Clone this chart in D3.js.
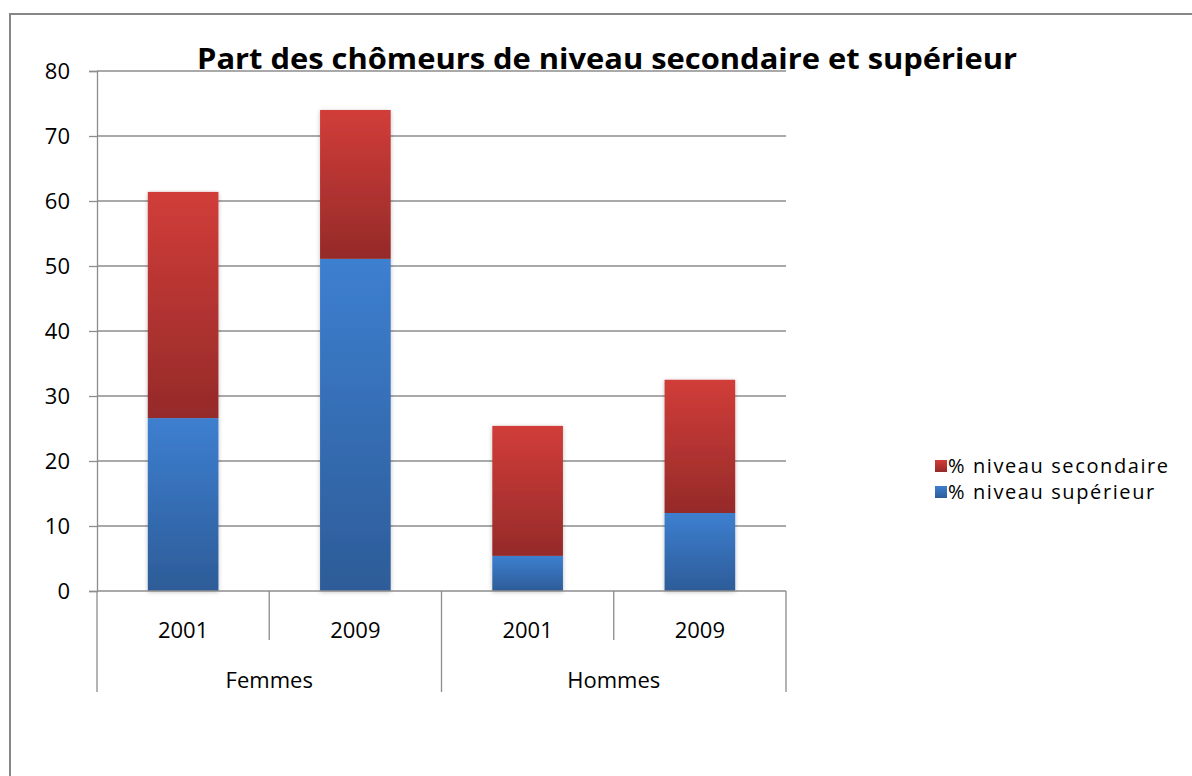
<!DOCTYPE html>
<html>
<head>
<meta charset="utf-8">
<script src="https://cdn.jsdelivr.net/npm/d3@7"></script>
<style>
  body { margin: 0; background: #fff; }
  text { font-family: "Open Sans", "Liberation Sans", sans-serif; fill: #000; }
</style>
</head>
<body>
<div id="chart"></div>
<script>
// data
var groups = ['Femmes', 'Hommes'];
var years = ['2001', '2009'];
var categories = ['Femmes 2001', 'Femmes 2009', 'Hommes 2001', 'Hommes 2009'];
var superieur = [26.6, 51.1, 5.4, 12.0];
var secondaire = [34.8, 22.9, 20.0, 20.5];
var yTicks = [0, 10, 20, 30, 40, 50, 60, 70, 80];
var seriesNames = ['% niveau secondaire', '% niveau supérieur'];

var svgWidth = 1192, svgHeight = 776;
var margin = { top: 71, left: 97, right: 406, bottom: 185 };
var width = svgWidth - margin.left - margin.right;
var height = svgHeight - margin.top - margin.bottom;

var svg = d3.select('#chart').append('svg')
  .attr('width', svgWidth)
  .attr('height', svgHeight);

var defs = svg.append('defs');
function grad(id, c1, c2) {
  var g = defs.append('linearGradient').attr('id', id)
    .attr('x1', 0).attr('y1', 0).attr('x2', 0).attr('y2', 1);
  g.append('stop').attr('offset', '0%').attr('stop-color', c1);
  g.append('stop').attr('offset', '100%').attr('stop-color', c2);
}
grad('gRed', '#d13d39', '#952a29');
grad('gBlue', '#3d7fd0', '#2d5c98');
var f = defs.append('filter').attr('id', 'shadow')
  .attr('x', '-20%').attr('y', '-5%').attr('width', '140%').attr('height', '115%');
f.append('feDropShadow').attr('dx', 0).attr('dy', 1).attr('stdDeviation', 2)
  .attr('flood-color', '#000').attr('flood-opacity', 0.25);

// outer chart border
svg.append('rect')
  .attr('x', 10).attr('y', 14)
  .attr('width', 1200).attr('height', 800)
  .attr('fill', 'none').attr('stroke', '#878787').attr('stroke-width', 2);

var chart = svg.append('g')
  .attr('transform', `translate(${margin.left},${margin.top})`);

var x = d3.scaleBand().domain(categories).range([0, width]).paddingInner(0.59).paddingOuter(0.295);
var xb = d3.scaleBand().domain(categories).range([0, width]);
var y = d3.scaleLinear().domain([0, 80]).range([height, 0]);

// gridlines
chart.append('g').selectAll('line').data(yTicks.slice(1)).enter().append('line')
  .attr('x1', 0).attr('x2', width)
  .attr('y1', d => y(d)).attr('y2', d => y(d))
  .attr('stroke', '#8c8c8c').attr('stroke-width', 1.3);

// y axis
var yAxis = chart.append('g')
  .call(d3.axisLeft(y).tickValues(yTicks).tickSize(8).tickPadding(19));
yAxis.select('.domain').attr('stroke', '#8c8c8c').attr('stroke-width', 1.3);
yAxis.selectAll('.tick line').attr('stroke', '#8c8c8c').attr('stroke-width', 1.3);
yAxis.selectAll('.tick text').style('font-size', '22px').style('font-family', '"Open Sans", sans-serif').attr('fill', '#000');

// bars
var stacked = categories.map((c, i) => ({ cat: c, sup: superieur[i], sec: secondaire[i] }));
var bars = chart.append('g').attr('filter', 'url(#shadow)');
bars.selectAll('rect.sup').data(stacked).enter().append('rect')
  .attr('class', 'sup')
  .attr('x', d => x(d.cat)).attr('width', x.bandwidth())
  .attr('y', d => y(d.sup)).attr('height', d => y(0) - y(d.sup))
  .attr('fill', 'url(#gBlue)');
bars.selectAll('rect.sec').data(stacked).enter().append('rect')
  .attr('class', 'sec')
  .attr('x', d => x(d.cat)).attr('width', x.bandwidth())
  .attr('y', d => y(d.sup + d.sec)).attr('height', d => y(d.sup) - y(d.sup + d.sec))
  .attr('fill', 'url(#gRed)');

// category axis (two levels)
var axisG = chart.append('g').attr('transform', `translate(0,${height})`);
axisG.append('line').attr('x1', 0).attr('x2', width).attr('y1', 0).attr('y2', 0)
  .attr('stroke', '#8c8c8c').attr('stroke-width', 1.3);
var sepX = d3.range(categories.length + 1).map(i => i * xb.step());
axisG.selectAll('line.sep').data(sepX).enter().append('line')
  .attr('class', 'sep')
  .attr('x1', d => d).attr('x2', d => d)
  .attr('y1', 0).attr('y2', (d, i) => i % 2 === 0 ? 101 : 49)
  .attr('stroke', '#8c8c8c').attr('stroke-width', 1.3);
axisG.selectAll('text.year').data(categories).enter().append('text')
  .attr('class', 'year')
  .attr('x', d => xb(d) + xb.bandwidth() / 2).attr('y', 47)
  .attr('text-anchor', 'middle').style('font-size', '22px')
  .text((d, i) => years[i % 2]);
axisG.selectAll('text.group').data(groups).enter().append('text')
  .attr('class', 'group')
  .attr('x', (d, i) => (i * 2 + 1) * xb.step()).attr('y', 97)
  .attr('text-anchor', 'middle').style('font-size', '22px')
  .text(d => d);

// title
svg.append('text')
  .attr('x', 197).attr('y', 69)
  .attr('textLength', 820).attr('lengthAdjust', 'spacingAndGlyphs')
  .style('font-size', '28px').style('font-weight', 'bold')
  .text('Part des chômeurs de niveau secondaire et supérieur');

// legend
var legend = svg.append('g').attr('transform', 'translate(935,459)');
var legendFill = ['url(#gRed)', 'url(#gBlue)'];
seriesNames.forEach(function(name, i) {
  var row = legend.append('g').attr('transform', `translate(0,${i * 26})`);
  row.append('rect').attr('width', 12).attr('height', 12).attr('y', 1).attr('fill', legendFill[i]);
  row.append('text').attr('x', 13).attr('y', 14)
    .style('font-size', '20px').style('letter-spacing', '1.6px').text(name);
});
</script>
</body>
</html>
